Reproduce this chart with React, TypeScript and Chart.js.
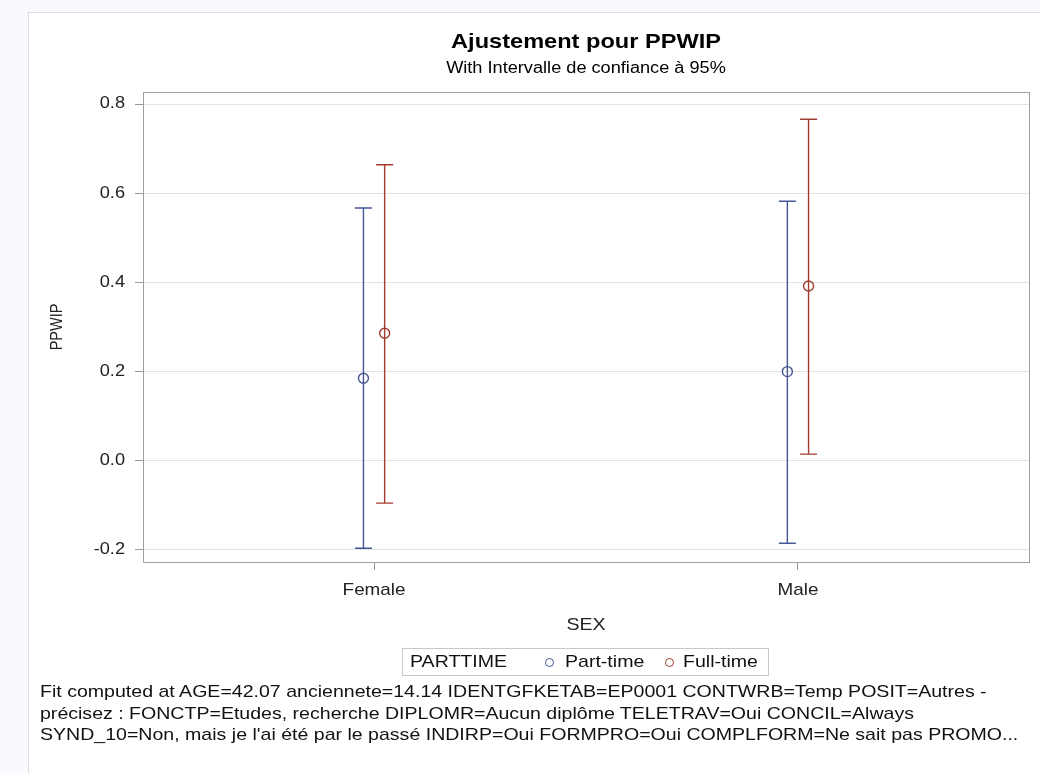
import React, { useEffect, useRef } from "react";
import { Chart, registerables } from "chart.js";

Chart.register(...registerables);

// ---- data ----
const categories = ["Female", "Male"];
const seriesNames = ["Part-time", "Full-time"];
const legendTitle = "PARTTIME";
const partTimeMean = [0.185, 0.2];
const partTimeLower = [-0.196, -0.185];
const partTimeUpper = [0.567, 0.582];
const fullTimeMean = [0.286, 0.392];
const fullTimeLower = [-0.095, 0.015];
const fullTimeUpper = [0.664, 0.766];
const yTicks = [-0.2, 0.0, 0.2, 0.4, 0.6, 0.8];
const footnoteLines = [
  "Fit computed at AGE=42.07 anciennete=14.14 IDENTGFKETAB=EP0001 CONTWRB=Temp POSIT=Autres -",
  "précisez : FONCTP=Etudes, recherche DIPLOMR=Aucun diplôme TELETRAV=Oui CONCIL=Always",
  "SYND_10=Non, mais je l'ai été par le passé INDIRP=Oui FORMPRO=Oui COMPLFORM=Ne sait pas PROMO...",
];

const BLUE = "#445694";
const RED = "#A23A2E";
const FONT = "'Liberation Sans', Arial, sans-serif";
const GROUP_OFFSET = 0.025;
const TEXT_STRETCH = 1.15;

// Text in the original is rendered slightly widened; reproduce that.
const stretchTextPlugin = {
  id: "stretchText",
  beforeInit(chart: any) {
    const ctx = chart.ctx;
    if (ctx.__stretched) return;
    ctx.__stretched = true;
    const orig = ctx.fillText.bind(ctx);
    ctx.fillText = (text: string, x: number, y: number, maxWidth?: number) => {
      const m = ctx.getTransform();
      const p = new DOMPoint(x, y).matrixTransform(m);
      ctx.save();
      ctx.setTransform(
        new DOMMatrix()
          .translate(p.x, p.y)
          .scale(TEXT_STRETCH, 1)
          .translate(-p.x, -p.y)
          .multiply(m)
      );
      if (maxWidth === undefined) orig(text, x, y);
      else orig(text, x, y, maxWidth);
      ctx.restore();
    };
  },
};

const errorBarPlugin = {
  id: "errorBars",
  afterDatasetsDraw(chart: any) {
    const { ctx, scales } = chart;
    const xs = scales.x;
    const ys = scales.y;
    chart.data.datasets.forEach((ds: any, di: number) => {
      const meta = chart.getDatasetMeta(di);
      if (meta.hidden) return;
      ctx.save();
      ctx.strokeStyle = ds.borderColor;
      ctx.lineWidth = 1.4;
      ds.data.forEach((pt: any, i: number) => {
        const px = xs.getPixelForValue(pt.x);
        const yl = ys.getPixelForValue(ds.lower[i]);
        const yu = ys.getPixelForValue(ds.upper[i]);
        const cap = 8.5;
        ctx.beginPath();
        ctx.moveTo(px, yl);
        ctx.lineTo(px, yu);
        ctx.moveTo(px - cap, yl);
        ctx.lineTo(px + cap, yl);
        ctx.moveTo(px - cap, yu);
        ctx.lineTo(px + cap, yu);
        ctx.stroke();
      });
      ctx.restore();
    });
  },
  afterDraw(chart: any) {
    const { ctx, chartArea } = chart;
    ctx.save();
    ctx.strokeStyle = "#a0a0a0";
    ctx.lineWidth = 1;
    ctx.strokeRect(
      Math.round(chartArea.left) + 0.5,
      Math.round(chartArea.top) + 0.5,
      Math.round(chartArea.right - chartArea.left),
      Math.round(chartArea.bottom - chartArea.top)
    );
    ctx.restore();
  },
};

function ChartCanvas() {
  const ref = useRef<HTMLCanvasElement | null>(null);
  useEffect(() => {
    if (!ref.current) return;
    Chart.defaults.font.family = FONT;
    const mk = (mean: number[], sign: number) =>
      mean.map((v, i) => ({ x: i + sign * GROUP_OFFSET, y: v }));
    const chart = new Chart(ref.current, {
      type: "scatter",
      data: {
        datasets: [
          {
            label: seriesNames[0],
            data: mk(partTimeMean, -1),
            lower: partTimeLower,
            upper: partTimeUpper,
            borderColor: BLUE,
            backgroundColor: "rgba(0,0,0,0)",
            pointRadius: 5,
            pointBorderWidth: 1.4,
          } as any,
          {
            label: seriesNames[1],
            data: mk(fullTimeMean, 1),
            lower: fullTimeLower,
            upper: fullTimeUpper,
            borderColor: RED,
            backgroundColor: "rgba(0,0,0,0)",
            pointRadius: 5,
            pointBorderWidth: 1.4,
          } as any,
        ],
      },
      options: {
        animation: false,
        responsive: false,
        events: [],
        layout: { padding: { top: 0, left: 0, right: 11, bottom: 136 } },
        plugins: {
          legend: { display: false },
          tooltip: { enabled: false },
          title: {
            display: true,
            text: "Ajustement pour PPWIP",
            fullSize: false,
            color: "#000",
            font: { size: 20.5, weight: "bold", lineHeight: "23px" },
            padding: { top: 31, bottom: 0 },
          },
          subtitle: {
            display: true,
            text: "With Intervalle de confiance à 95%",
            fullSize: false,
            color: "#000",
            font: { size: 15.8, lineHeight: "18px" },
            padding: { top: 6, bottom: 14 },
          },
        },
        scales: {
          x: {
            type: "linear",
            min: -0.545,
            max: 1.545,
            afterBuildTicks: (s: any) => {
              s.ticks = categories.map((_, i) => ({ value: i }));
            },
            afterFit: (s: any) => {
              s.height = 75;
            },
            ticks: {
              color: "#222",
              font: { size: 16.4 },
              padding: 11,
              callback: (v: any) => categories[v as number] ?? "",
            },
            grid: {
              drawOnChartArea: false,
              tickColor: "#999",
              tickLength: 8,
            },
            border: { display: false },
            title: {
              display: true,
              text: "SEX",
              color: "#222",
              font: { size: 17 },
              padding: { top: 0, bottom: 1 },
            },
          },
          y: {
            type: "linear",
            min: -0.227,
            max: 0.827,
            afterBuildTicks: (s: any) => {
              s.ticks = yTicks.map((v) => ({ value: v }));
            },
            afterFit: (s: any) => {
              s.width = 143;
            },
            ticks: {
              color: "#222",
              font: { size: 15.8 },
              padding: 10,
              callback: (v: any) => Number(v).toFixed(1),
            },
            grid: {
              color: "#e3e3e3",
              tickColor: "#999",
              tickLength: 8,
            },
            border: { display: false },
            title: {
              display: true,
              text: "PPWIP",
              color: "#222",
              font: { size: 14.5 },
              padding: { top: 49, bottom: 0 },
            },
          },
        },
      },
      plugins: [stretchTextPlugin, errorBarPlugin],
    } as any);
    return () => chart.destroy();
  }, []);
  return (
    <canvas
      ref={ref}
      width={1040}
      height={773}
      style={{ position: "absolute", left: 0, top: 0, width: 1040, height: 773 }}
    />
  );
}

function Marker({ color, left }: { color: string; left: number }) {
  return (
    <span
      style={{
        position: "absolute",
        left: left - 4.5,
        top: 13 - 4.5,
        width: 7,
        height: 7,
        borderRadius: "50%",
        border: `1.3px solid ${color}`,
      }}
    />
  );
}

const legendText: React.CSSProperties = {
  position: "absolute",
  top: 0,
  lineHeight: "26px",
  transform: `scaleX(${TEXT_STRETCH})`,
  transformOrigin: "left center",
};

export default function App() {
  return (
    <div
      style={{
        position: "absolute",
        left: 0,
        top: 0,
        width: 1040,
        height: 773,
        overflow: "hidden",
        background: "#f9fafd",
        fontFamily: FONT,
      }}
    >
      <div
        style={{
          position: "absolute",
          left: 28,
          top: 12,
          width: 1040,
          height: 800,
          background: "#fff",
          border: "1px solid #dcdde2",
        }}
      />
      <ChartCanvas />
      <div
        style={{
          position: "absolute",
          left: 402,
          top: 648,
          width: 367,
          height: 28,
          boxSizing: "border-box",
          border: "1px solid #c8c8c8",
          fontSize: 17,
          color: "#111",
          whiteSpace: "nowrap",
        }}
      >
        <span style={{ ...legendText, left: 7 }}>{legendTitle}</span>
        <Marker color={BLUE} left={146} />
        <span style={{ ...legendText, left: 162 }}>{seriesNames[0]}</span>
        <Marker color={RED} left={266} />
        <span style={{ ...legendText, left: 280 }}>{seriesNames[1]}</span>
      </div>
      <div
        style={{
          position: "absolute",
          left: 40,
          top: 681,
          fontSize: 17,
          lineHeight: "21.5px",
          color: "#111",
          whiteSpace: "nowrap",
          transform: `scaleX(${TEXT_STRETCH})`,
          transformOrigin: "left top",
        }}
      >
        {footnoteLines.map((l, i) => (
          <div key={i}>{l}</div>
        ))}
      </div>
    </div>
  );
}
